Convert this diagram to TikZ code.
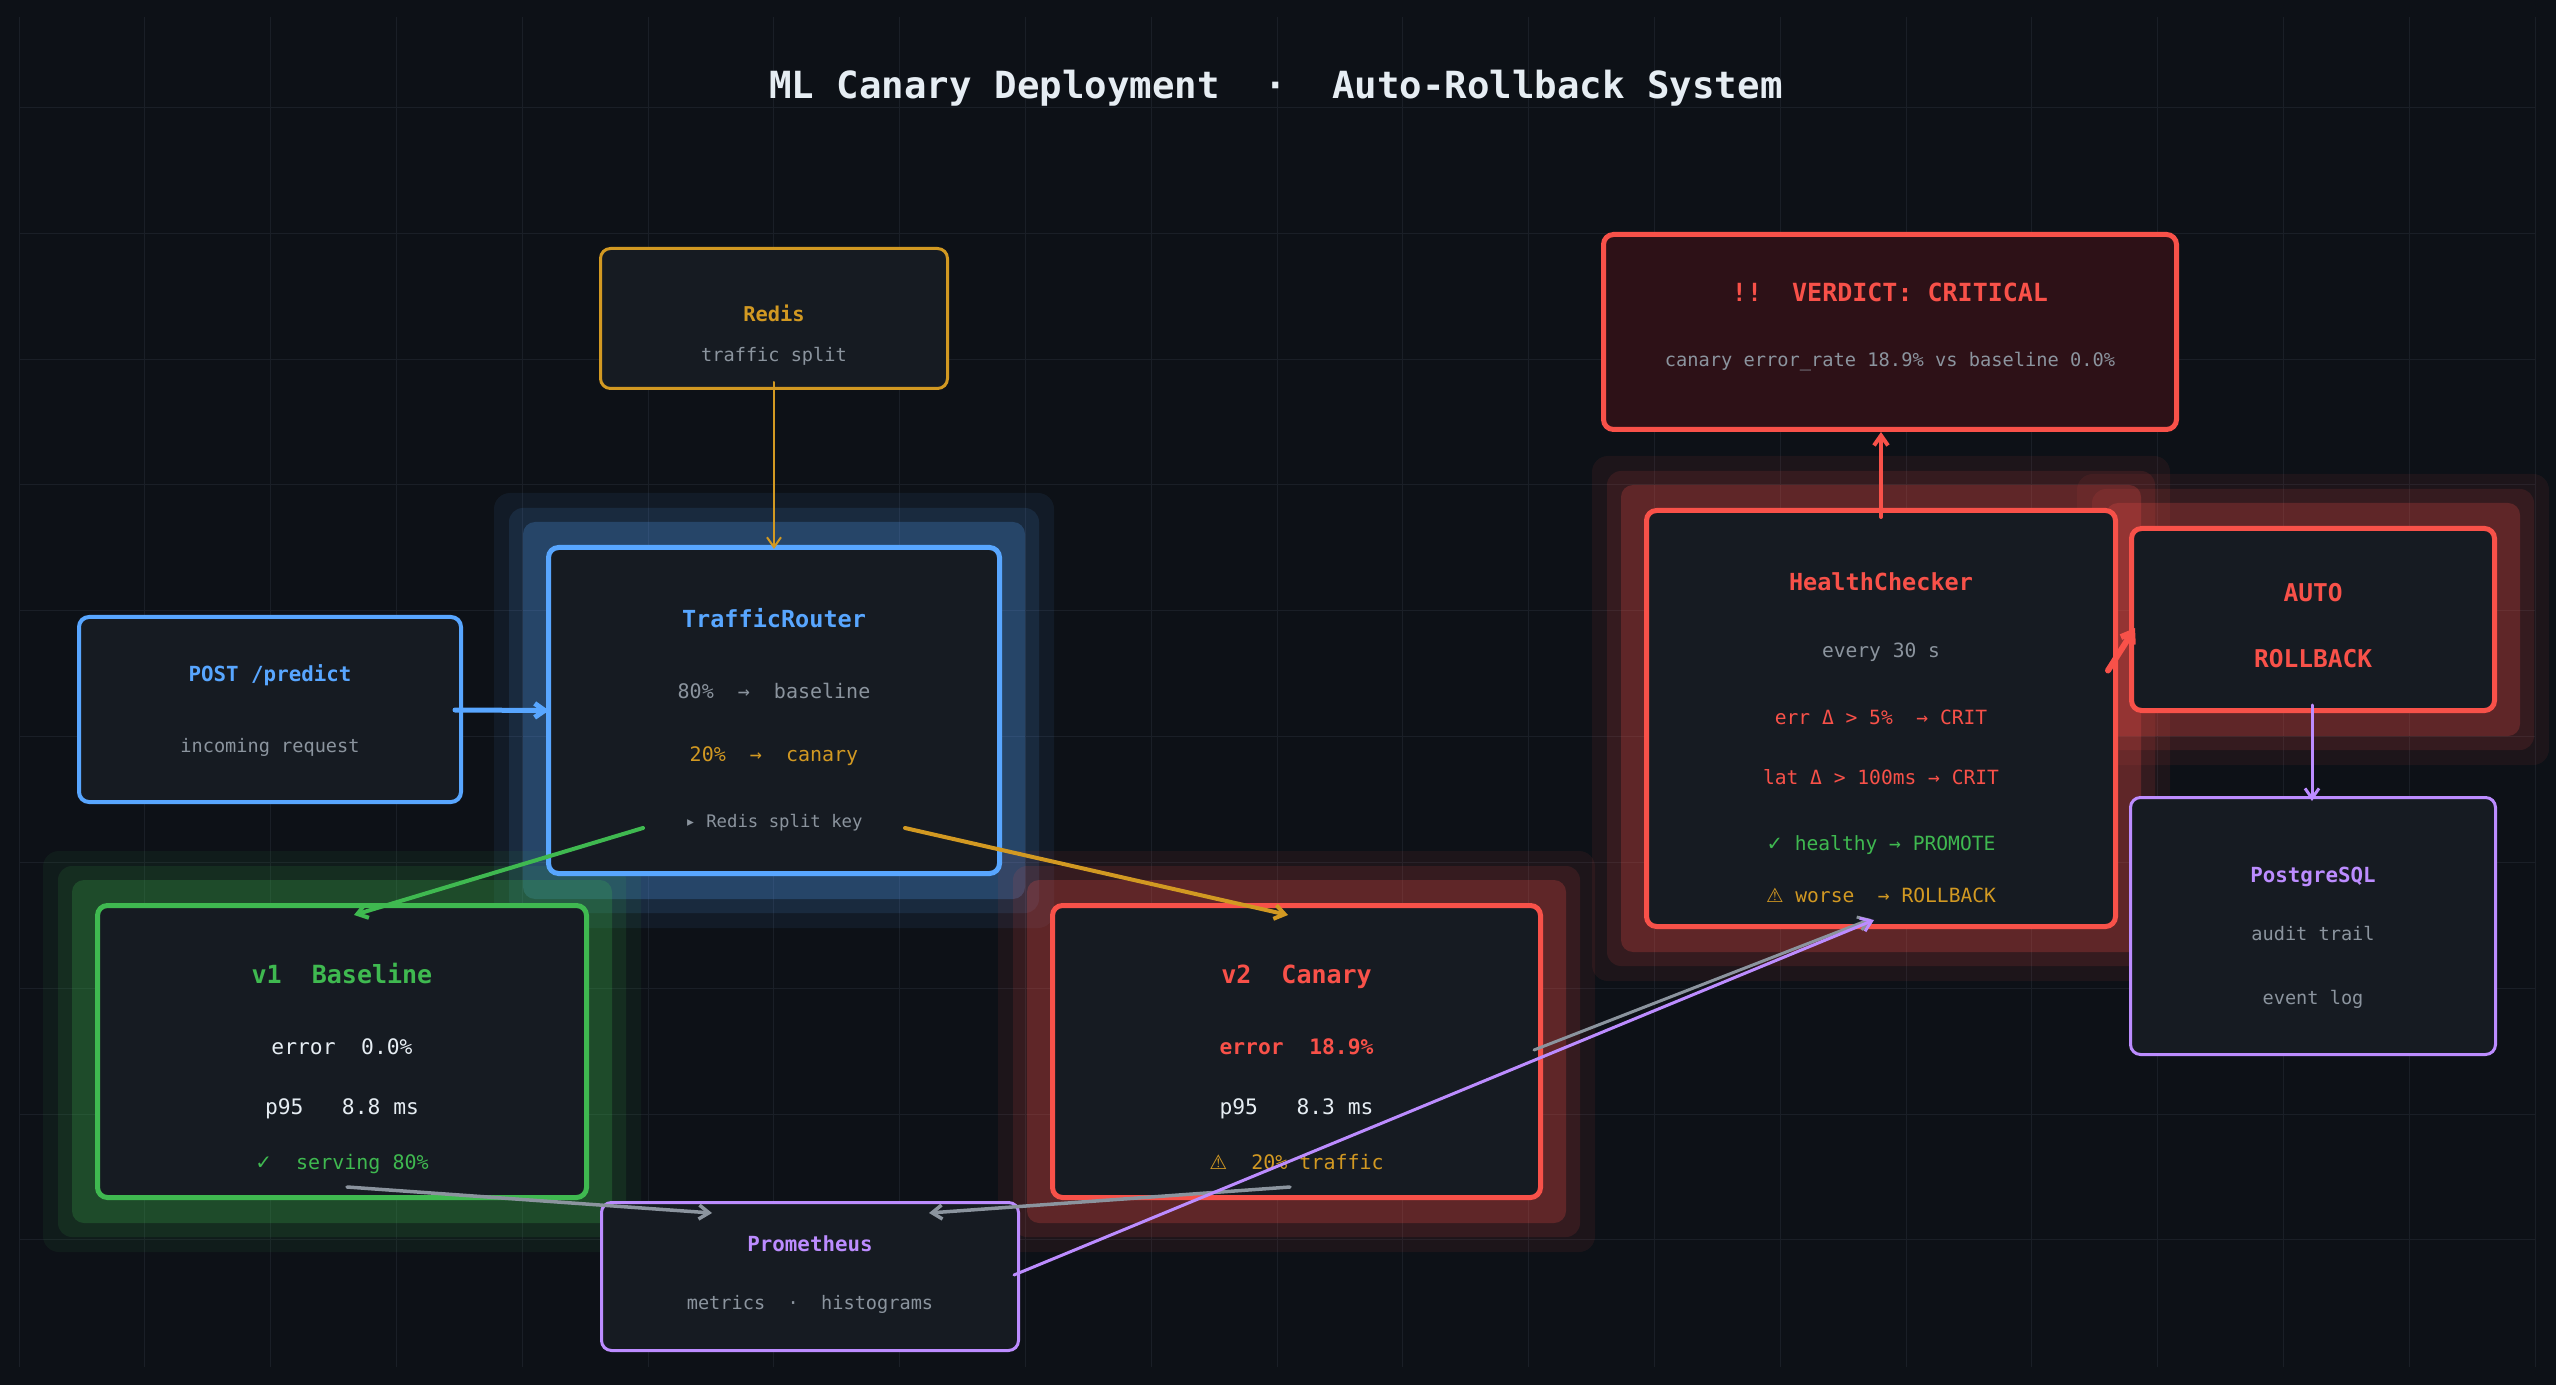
\documentclass[tikz,border=0pt]{standalone}
\usepackage{fontspec}
\setmainfont{DejaVu Sans Mono}
\newfontfamily\symf{DejaVu Sans}
\usetikzlibrary{arrows.meta,calc}
\pgfdeclarelayer{bgl}
\pgfdeclarelayer{glow}
\pgfsetlayers{bgl,glow,main}
\definecolor{bg}{HTML}{0D1117}
\definecolor{boxf}{HTML}{161B22}
\definecolor{cblue}{HTML}{58A6FF}
\definecolor{cgreen}{HTML}{3FB950}
\definecolor{cred}{HTML}{F85149}
\definecolor{camber}{HTML}{D29922}
\definecolor{cpurple}{HTML}{BC8CFF}
\definecolor{cgray}{HTML}{8B949E}
\definecolor{cwhite}{HTML}{E6EDF3}
\definecolor{verdf}{HTML}{2D1117}
\definecolor{gridc}{HTML}{1A1F27}
\newcommand\fs[1]{\fontsize{#1}{#1}\selectfont}
\tikzset{
  box/.style={rectangle, rounded corners=5pt, fill=boxf, inner sep=0pt},
  arr/.style={line cap=round, -{Straight Barb[length=5pt,width=7pt]}},
}
\newcommand\T[6]{\node[anchor=base, inner sep=0pt, text=#5, font=\fs{#4}] (#1) at (#2,{#3+0.66*#4}) {#6};}
\newcommand\glowof[2]{%
  \begin{pgfonlayer}{glow}
  \fill[#2, opacity=0.07, rounded corners=8pt] ($(#1.south west)+(-52,52)$) rectangle ($(#1.north east)+(52,-52)$);
  \fill[#2, opacity=0.11, rounded corners=7pt] ($(#1.south west)+(-37,37)$) rectangle ($(#1.north east)+(37,-37)$);
  \fill[#2, opacity=0.22, rounded corners=6pt] ($(#1.south west)+(-23,23)$) rectangle ($(#1.north east)+(23,-23)$);
  \end{pgfonlayer}}
\begin{document}
\begin{tikzpicture}[x=0.5pt,y=-0.5pt]
\useasboundingbox (0,0) rectangle (2556,1385);
\begin{pgfonlayer}{bgl}
\fill[bg] (0,0) rectangle (2556,1385);
\foreach \i in {0,...,20} \draw[gridc, line width=0.5pt] ({19+125.8*\i},17) -- ({19+125.8*\i},1367);
\foreach \j in {0,...,9} \draw[gridc, line width=0.5pt] (19,{107.6+125.8*\j}) -- (2535,{107.6+125.8*\j});
\end{pgfonlayer}

% boxes
\node[box, draw=camber, line width=1.5pt, minimum width=173.5pt, minimum height=70pt] (redis) at (774,318.5) {};
\node[box, draw=cblue, line width=2.5pt, minimum width=225.5pt, minimum height=163pt] (tr) at (774,710.5) {};
\node[box, draw=cblue, line width=2pt, minimum width=191pt, minimum height=92.5pt] (post) at (270,709.5) {};
\node[box, draw=cgreen, line width=2.5pt, minimum width=244.5pt, minimum height=146pt] (v1) at (342,1051.5) {};
\node[box, draw=cred, line width=2.5pt, minimum width=244pt, minimum height=146pt] (v2) at (1296.5,1051.5) {};
\node[box, draw=cpurple, line width=1.5pt, minimum width=208.5pt, minimum height=74pt] (prom) at (810,1276.5) {};
\node[box, draw=cred, line width=2.5pt, minimum width=234.5pt, minimum height=208pt] (hc) at (1881,718.5) {};
\node[box, fill=verdf, draw=cred, line width=2.5pt, minimum width=286.5pt, minimum height=97.5pt] (verdict) at (1890,332) {};
\node[box, draw=cred, line width=2.5pt, minimum width=181.5pt, minimum height=91pt] (auto) at (2313,619.5) {};
\node[box, draw=cpurple, line width=1.5pt, minimum width=182.5pt, minimum height=128.5pt] (pg) at (2313,926) {};

\glowof{tr}{cblue}
\glowof{v1}{cgreen}
\glowof{v2}{cred}
\glowof{hc}{cred}
\glowof{auto}{cred}

% texts
\T{title}{1276}{86}{18.7}{cwhite}{\bfseries ML Canary Deployment\ \ ·\ \ Auto-Rollback System}
\T{redisA}{774}{315}{10.2}{camber}{\bfseries Redis}
\T{redisB}{774}{355}{9.3}{cgray}{traffic split}
\T{trA}{774}{620}{11.75}{cblue}{\bfseries TrafficRouter}
\T{trB}{774}{692}{10}{cgray}{80\%\ \ →\ \ baseline}
\T{trC}{774}{755}{10}{camber}{20\%\ \ →\ \ canary}
\T{trD}{774}{822}{8.65}{cgray}{▸ Redis split key}
\T{postA}{270}{675}{10.4}{cblue}{\bfseries POST /predict}
\T{postB}{270}{746}{9.3}{cgray}{incoming request}
\T{vA}{342}{975}{12.5}{cgreen}{\bfseries v1\ \ Baseline}
\T{vB}{342}{1047}{10.65}{cwhite}{error\ \ 0.0\%}
\T{vC}{342}{1107}{10.65}{cwhite}{p95\ \ \ 8.8 ms}
\T{vD}{342}{1163}{10}{cgreen}{{\symf ✓}\ \ serving 80\%}
\T{wA}{1296.5}{975}{12.5}{cred}{\bfseries v2\ \ Canary}
\T{wB}{1296.5}{1047}{10.65}{cred}{\bfseries error\ \ 18.9\%}
\T{wC}{1296.5}{1107}{10.65}{cwhite}{p95\ \ \ 8.3 ms}
\T{wD}{1296.5}{1163}{10}{camber}{{\symf ⚠}\ \ 20\% traffic}
\T{pA}{810}{1245}{10.4}{cpurple}{\bfseries Prometheus}
\T{pB}{810}{1303}{9.3}{cgray}{metrics\ \ ·\ \ histograms}
\T{hA}{1881}{583}{11.75}{cred}{\bfseries HealthChecker}
\T{hB}{1881}{651}{9.8}{cgray}{every 30 s}
\T{hC}{1881}{718}{9.8}{cred}{err Δ > 5\%\ \ → CRIT}
\T{hD}{1881}{778}{9.8}{cred}{lat Δ > 100ms → CRIT}
\T{hE}{1881}{844}{9.8}{cgreen}{{\symf ✓} healthy → PROMOTE}
\T{hF}{1881}{896}{9.8}{camber}{{\symf ⚠} worse\ \ → ROLLBACK}
\T{dA}{1890}{293}{12.5}{cred}{\bfseries !!\ \ VERDICT: CRITICAL}
\T{dB}{1890}{360}{9.35}{cgray}{canary error\_rate 18.9\% vs baseline 0.0\%}
\T{aA}{2313}{593}{12.25}{cred}{\bfseries AUTO}
\T{aB}{2313}{659}{12.25}{cred}{\bfseries ROLLBACK}
\T{gA}{2313}{876}{10.4}{cpurple}{\bfseries PostgreSQL}
\T{gB}{2313}{934}{9.3}{cgray}{audit trail}
\T{gC}{2313}{998}{9.3}{cgray}{event log}

% connectors
\draw[arr, camber, line width=1pt] ($(redis.south)+(0,-8)$) -- ($(tr.north)+(0,4)$);
\draw[arr, cblue, line width=2.5pt] ($(post.east)+(-8,0.5)$) -- ($(tr.west)+(3,0)$);
\draw[arr, cgreen, line width=2pt] ($(tr.south)+(-131,-48)$) -- ($(v1.north)+(12,12)$);
\draw[arr, camber, line width=2pt] ($(tr.south)+(131,-48)$) -- ($(v2.north)+(-8.5,12)$);
\draw[arr, cgray, line width=1.75pt] ($(v1.south)+(5,-13)$) -- ($(prom.north)+(-98,12)$);
\draw[arr, cgray, line width=1.75pt] ($(v2.south)+(-6.5,-13)$) -- ($(prom.north)+(119,12)$);
\draw[arr, cgray, line width=1.5pt] ($(v2.east)+(-9,-1.5)$) -- ($(hc.south)+(-10,-10)$);
\draw[arr, cpurple, line width=1.5pt] ($(prom.east)+(-6,-1.5)$) -- ($(hc.south)+(-7,-9)$);
\draw[arr, cred, line width=2pt] ($(hc.north)+(0,9)$) -- (hc.north |- verdict.south);
\draw[arr, cred, line width=3pt] ($(hc.east)+(-10,-48)$) -- ($(auto.west)+(6,8.5)$);
\draw[arr, cpurple, line width=1.5pt] ($(auto.south)+(-1,-8)$) -- ($(pg.north)+(-1,5)$);
\end{tikzpicture}
\end{document}
